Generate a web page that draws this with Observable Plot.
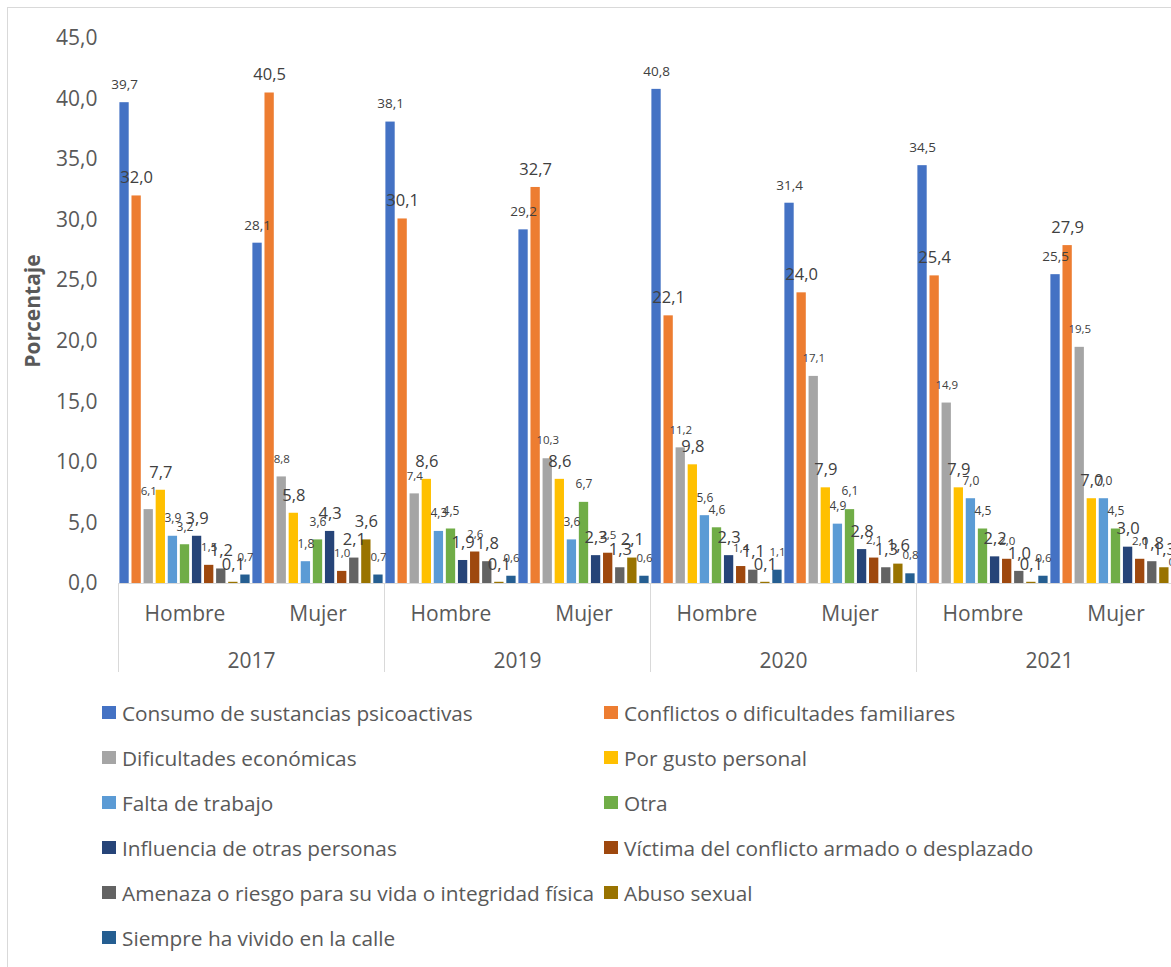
<!DOCTYPE html>
<html>
<head>
<meta charset="utf-8">
<script src="https://cdn.jsdelivr.net/npm/d3@7"></script>
<script src="https://cdn.jsdelivr.net/npm/@observablehq/plot@0.6"></script>
<style>
  html, body { margin: 0; padding: 0; background: #fff; overflow: hidden; }
  body { font-family: "Open Sans", Lato, sans-serif; }
  #frame { position: absolute; left: 7px; top: 7px; width: 2000px; height: 2000px; border-left: 1px solid #d9d9d9; border-top: 1px solid #d9d9d9; }
  #chart { position: absolute; left: 0; top: 0; width: 1190px; }
  #legend { position: absolute; left: 0; top: 690px; width: 1171px; display: grid; grid-template-columns: 502px 560px; grid-auto-rows: 45px; padding-left: 102px; box-sizing: border-box; }
  .item { display: flex; align-items: center; font-size: 20.8px; color: #595959; white-space: nowrap; }
  .sw { width: 14px; height: 13px; margin-right: 6px; flex: none; }
</style>
</head>
<body>
<div id="frame"></div>
<div id="chart"></div>
<div id="legend"></div>
<script>
const years = ["2017", "2019", "2020", "2021"];
const genders = ["Hombre", "Mujer"];
const series = [
  "Consumo de sustancias psicoactivas",
  "Conflictos o dificultades familiares",
  "Dificultades económicas",
  "Por gusto personal",
  "Falta de trabajo",
  "Otra",
  "Influencia de otras personas",
  "Víctima del conflicto armado o desplazado",
  "Amenaza o riesgo para su vida o integridad física",
  "Abuso sexual",
  "Siempre ha vivido en la calle"
];
const colors = ["#4472C4", "#ED7D31", "#A5A5A5", "#FFC000", "#5B9BD5", "#70AD47", "#264478", "#9E480E", "#636363", "#997300", "#255E91"];

const hombre2017 = [39.7, 32.0, 6.1, 7.7, 3.9, 3.2, 3.9, 1.5, 1.2, 0.1, 0.7];
const mujer2017  = [28.1, 40.5, 8.8, 5.8, 1.8, 3.6, 4.3, 1.0, 2.1, 3.6, 0.7];
const hombre2019 = [38.1, 30.1, 7.4, 8.6, 4.3, 4.5, 1.9, 2.6, 1.8, 0.1, 0.6];
const mujer2019  = [29.2, 32.7, 10.3, 8.6, 3.6, 6.7, 2.3, 2.5, 1.3, 2.1, 0.6];
const hombre2020 = [40.8, 22.1, 11.2, 9.8, 5.6, 4.6, 2.3, 1.4, 1.1, 0.1, 1.1];
const mujer2020  = [31.4, 24.0, 17.1, 7.9, 4.9, 6.1, 2.8, 2.1, 1.3, 1.6, 0.8];
const hombre2021 = [34.5, 25.4, 14.9, 7.9, 7.0, 4.5, 2.2, 2.0, 1.0, 0.1, 0.6];
const mujer2021  = [25.5, 27.9, 19.5, 7.0, 7.0, 4.5, 3.0, 2.0, 1.8, 1.3, 0.3];

const yTicks = [0, 5, 10, 15, 20, 25, 30, 35, 40, 45];

const valuesBy = {
  "2017": {Hombre: hombre2017, Mujer: mujer2017},
  "2019": {Hombre: hombre2019, Mujer: mujer2019},
  "2020": {Hombre: hombre2020, Mujer: mujer2020},
  "2021": {Hombre: hombre2021, Mujer: mujer2021}
};

// label font sizes per series (style, mimics the source)
const labelSizes = [13.5, 16.5, 11.5, 16.5, 12, 12, 16.5, 11.5, 16.5, 16.5, 11.5];

const nS = series.length;
const groupRows = [];
const rows = [];
years.forEach((yr, yi) => {
  genders.forEach((g, gi) => {
    const start = yi * 2 * nS + gi * nS;
    groupRows.push({year: yr, gender: g, start});
    valuesBy[yr][g].forEach((v, si) => {
      rows.push({year: yr, gender: g, series: series[si], si, pos: start + si, value: v});
    });
  });
});
const yearRows = years.map((yr, yi) => ({year: yr, start: yi * 2 * nS}));
const seps = yearRows.map(d => d.start);
const fmt = v => v.toFixed(1).replace(".", ",");
const pad = 0.115;
const FONT = "'Open Sans', Lato, sans-serif";
const AX = 21;

const plot = Plot.plot({
  width: 1190,
  height: 690,
  marginLeft: 118,
  marginRight: 8,
  marginTop: 38,
  marginBottom: 107,
  style: {fontFamily: FONT, color: "#595959", background: "transparent", overflow: "visible", maxWidth: "none"},
  x: {domain: [0, years.length * 2 * nS], axis: null},
  y: {domain: [0, 45], axis: null},
  color: {domain: series, range: colors},
  marks: [
    Plot.ruleY([0], {stroke: "#d9d9d9", strokeWidth: 1}),
    Plot.axisX(seps, {tickSize: 89, tickFormat: () => "", stroke: "#d9d9d9", strokeWidth: 1}),
    Plot.axisY(yTicks, {tickSize: 0, tickPadding: 21, tickFormat: fmt, fontSize: AX, fill: "#595959", label: null}),
    Plot.text(["Porcentaje"], {frameAnchor: "left", textAnchor: "middle", rotate: -90, dx: -85, fontSize: 21, fontWeight: "bold", fill: "#595959"}),
    Plot.rectY(rows, {x1: d => d.pos + pad, x2: d => d.pos + 1 - pad, y: "value", fill: "series"}),
    Plot.text(rows, {x: d => d.pos + 0.5, y: "value", text: d => fmt(d.value), dy: -18, fontSize: d => labelSizes[d.si], fill: "#404040", lineAnchor: "middle"}),
    Plot.text(groupRows, {x: d => d.start + nS / 2, frameAnchor: "bottom", dy: 37, text: "gender", fontSize: AX, fill: "#595959"}),
    Plot.text(yearRows, {x: d => d.start + nS, frameAnchor: "bottom", dy: 84, text: "year", fontSize: AX, fill: "#595959"})
  ]
});
document.getElementById("chart").appendChild(plot);

const legend = document.getElementById("legend");
series.forEach((s, i) => {
  const item = document.createElement("div");
  item.className = "item";
  const sw = document.createElement("span");
  sw.className = "sw";
  sw.style.background = colors[i];
  item.appendChild(sw);
  item.appendChild(document.createTextNode(s));
  legend.appendChild(item);
});
</script>
</body>
</html>
